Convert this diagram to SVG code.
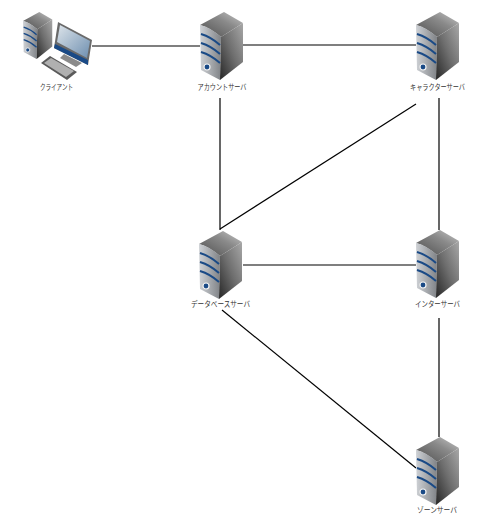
<svg xmlns="http://www.w3.org/2000/svg" width="480" height="530" viewBox="0 0 480 530">
<style>
text{font-family:"Noto Sans CJK JP","Liberation Sans",sans-serif;font-size:8px;fill:#333;text-anchor:middle}
.c{stroke:#000;stroke-width:1.2;fill:none}
.b{stroke:#1a4a86;stroke-width:2;fill:none}
</style>
<defs>
<linearGradient id="top" x1="0" y1="1" x2="1" y2="0"><stop offset="0" stop-color="#4f4f4f"/><stop offset=".6" stop-color="#8a8a8a"/><stop offset="1" stop-color="#c8c8c8"/></linearGradient>
<linearGradient id="front" x1="0" y1="0" x2="1" y2="0"><stop offset="0" stop-color="#cfd2d6"/><stop offset="1" stop-color="#808387"/></linearGradient>
<linearGradient id="side" x1="0" y1="1" x2="1" y2="0"><stop offset="0" stop-color="#262626"/><stop offset=".5" stop-color="#6e6e6e"/><stop offset="1" stop-color="#a8a8a8"/></linearGradient>
<linearGradient id="screen" x1="0" y1="0" x2="1" y2="1"><stop offset="0" stop-color="#dde4ea"/><stop offset="1" stop-color="#6e8fb0"/></linearGradient>
<g id="srv">
<path d="M0 13L24 0L43 11L21 25Q9 15 0 13Z" fill="url(#top)"/>
<path d="M0 13Q10 15 21 25L20 68L1 58Z" fill="url(#front)"/>
<path d="M21 25L43 11V50L20 68Z" fill="url(#side)"/>
<path class="b" d="M1 22Q11 25 20 33"/>
<path class="b" d="M1 31Q11 34 20 42"/>
<path class="b" d="M1 40Q11 43 20 51"/>
<circle cx="7" cy="55" r="3" fill="#1a4a86" stroke="#f2f2f2" stroke-width="1.2"/>
</g>
</defs>
<g id="connectors">
<line class="c" x1="92" y1="46" x2="200" y2="46"/>
<line class="c" x1="243" y1="45" x2="416" y2="45"/>
<line class="c" x1="220" y1="98" x2="220" y2="230"/>
<line class="c" x1="439" y1="98" x2="439" y2="230"/>
<line class="c" x1="220" y1="229" x2="416" y2="104"/>
<line class="c" x1="243" y1="265" x2="416" y2="265"/>
<line class="c" x1="439" y1="318" x2="439" y2="437"/>
<line class="c" x1="222" y1="310" x2="416" y2="468"/>
</g>
<g id="client">
<g transform="translate(23 12) scale(.68 .69)"><use href="#srv"/></g>
<path d="M64 54L82 63L76 67L60 58Z" fill="#8a8a8a"/>
<path d="M58 22L92 40L88 65L54 48Z" fill="#6a6a6a"/>
<path d="M60 25L90 41L87 58L57 42Z" fill="url(#screen)"/>
<path d="M55 44L88 60L88 65L54 48Z" fill="#1a4a86"/>
<path d="M50 56L77 72L67 80L41 63Z" fill="#5a5a5a"/>
<path d="M51 58L74 71L66 77L44 63Z" fill="#b0b0b0"/>
<text x="56.500" y="90" textLength="33" lengthAdjust="spacingAndGlyphs">クライアント</text>
</g>
<g id="account"><use href="#srv" x="200" y="12"/><text x="222" y="90" textLength="49" lengthAdjust="spacingAndGlyphs">アカウントサーバ</text></g>
<g id="character"><use href="#srv" x="416" y="12"/><text x="437.500" y="90" textLength="55" lengthAdjust="spacingAndGlyphs">キャラクターサーバ</text></g>
<g id="database"><use href="#srv" x="199" y="231"/><text x="220.500" y="307" textLength="59" lengthAdjust="spacingAndGlyphs">データベースサーバ</text></g>
<g id="inter"><use href="#srv" x="416" y="230"/><text x="437.500" y="307" textLength="45" lengthAdjust="spacingAndGlyphs">インターサーバ</text></g>
<g id="zone"><use href="#srv" x="416" y="437"/><text x="437" y="513" textLength="40" lengthAdjust="spacingAndGlyphs">ゾーンサーバ</text></g>
</svg>
